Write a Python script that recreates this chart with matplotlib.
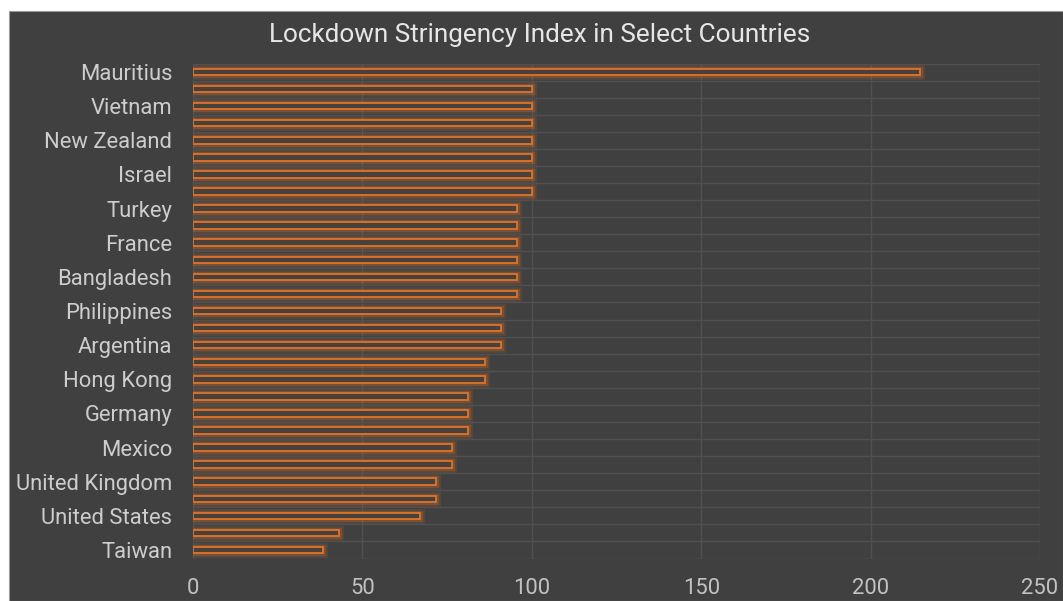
import matplotlib
matplotlib.use("Agg")
import matplotlib.pyplot as plt
import matplotlib.patheffects as pe
from matplotlib.patches import Rectangle
import numpy as np

plt.rcParams['font.family'] = ['Roboto', 'DejaVu Sans']

countries = [
    "Mauritius", "Jordan", "Vietnam", "Rwanda", "New Zealand", "India", "Israel", "Italy",
    "Turkey", "Peru", "France", "Spain", "Bangladesh", "South Africa", "Philippines", "Colombia",
    "Argentina", "Malaysia", "Hong Kong", "Nigeria", "Germany", "Pakistan", "Mexico", "Brazil",
    "United Kingdom", "Canada", "United States", "Japan", "Taiwan",
]
values = [
    214.6, 100, 100, 100, 100, 100, 100, 100,
    95.6, 95.6, 95.6, 95.6, 95.6, 95.6, 90.9, 90.9,
    90.9, 86.2, 86.2, 81.2, 81.2, 81.2, 76.4, 76.4,
    71.7, 71.7, 67.0, 43.1, 38.4,
]
xticks = [0, 50, 100, 150, 200, 250]
title = "Lockdown Stringency Index in Select Countries"

BG = "#404040"
GRID = "#505050"
TXT = "#cdcdcd"
ORANGE = "#e0742a"

fig = plt.figure(figsize=(10.63, 6.01), dpi=100, facecolor="white")
fig.patches.append(Rectangle((9 / 1063, 0), 1 - 9 / 1063, 1 - 11 / 601,
                             transform=fig.transFigure, facecolor=BG,
                             edgecolor="#9a9a9a", linewidth=0.8, zorder=-10))

ax = fig.add_axes([193 / 1063, 1 - 558.5 / 601, (1040 - 193) / 1063, (558.5 - 63.5) / 601])
ax.set_facecolor(BG)

n = len(countries)
y = np.arange(n)
bars = ax.barh(y, values, height=0.38, color="#48403a", edgecolor=ORANGE,
               linewidth=1.3, zorder=3)
for b in bars:
    b.set_path_effects([
        pe.Stroke(linewidth=6.5, foreground=ORANGE, alpha=0.12),
        pe.Stroke(linewidth=3.8, foreground=ORANGE, alpha=0.25),
        pe.Normal(),
    ])

ax.set_xlim(0, 250)
ax.set_ylim(n - 0.5, -0.5)
ax.set_xticks(xticks)
ax.set_xticklabels([str(t) for t in xticks])
ax.set_yticks(y[::2])
ax.set_yticklabels(countries[::2])
ax.set_yticks(np.arange(-0.5, n, 1.0), minor=True)
ax.tick_params(axis="both", which="both", length=0, colors=TXT, labelsize=15.8)
ax.tick_params(axis="x", pad=14, colors="#c2c2c2")
ax.tick_params(axis="y", pad=15)
ax.grid(True, axis="x", which="major", color=GRID, linewidth=1, zorder=0)
ax.grid(True, axis="y", which="minor", color=GRID, linewidth=1, zorder=0)
ax.grid(False, axis="y", which="major")
for s in ax.spines.values():
    s.set_visible(False)

fig.text(540 / 1063, 1 - 35 / 601, title, ha="center", va="center",
         color="#e6e6e6", fontsize=18.8)

fig.savefig("out.png", dpi=100, facecolor="white")
